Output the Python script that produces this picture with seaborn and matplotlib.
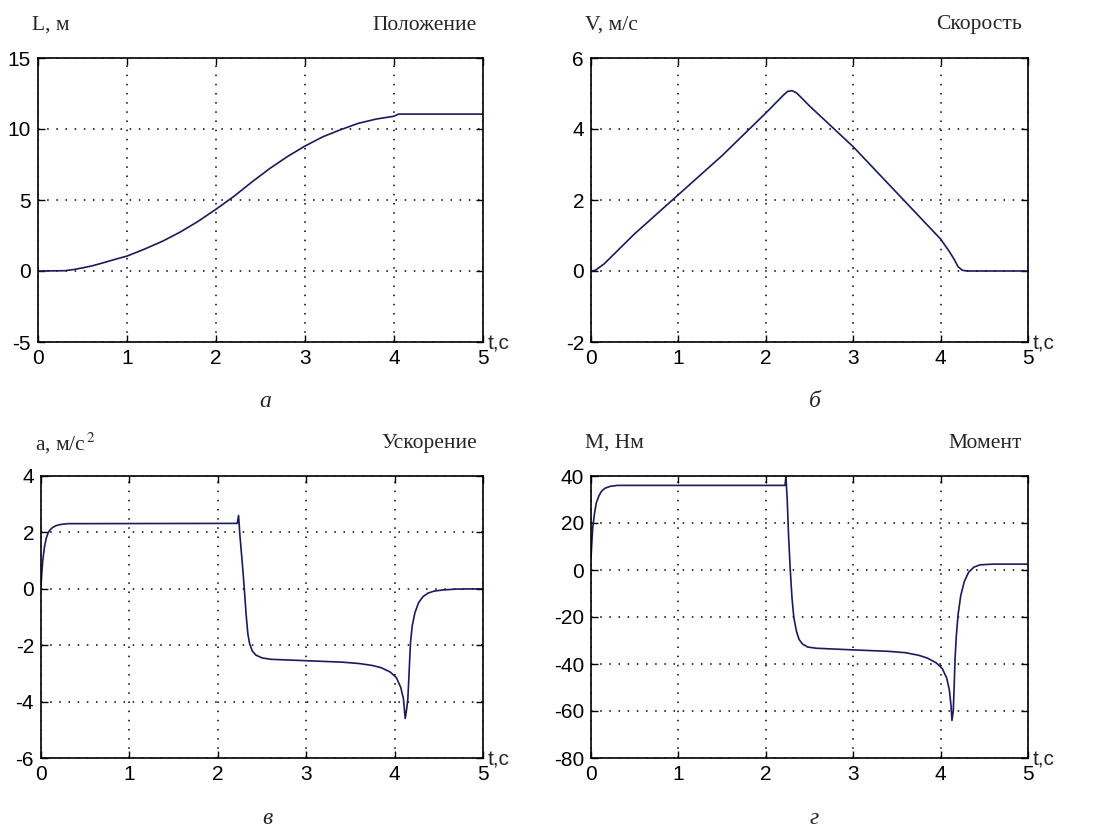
import matplotlib
matplotlib.use("Agg")
import matplotlib.pyplot as plt
import seaborn as sns
import pandas as pd

# ---- data ----
t_pos = [0, 0.3, 0.4, 0.5, 0.6, 0.7, 0.8, 0.9, 1.0, 1.2, 1.4, 1.6, 1.8, 2.0, 2.2, 2.4, 2.6, 2.8,
         3.0, 3.2, 3.4, 3.6, 3.8, 4.0, 4.05, 5.0]
L_pos = [0, 0.02, 0.1, 0.22, 0.35, 0.52, 0.7, 0.88, 1.05, 1.55, 2.1, 2.75, 3.5, 4.35, 5.25, 6.25, 7.2, 8.05,
         8.8, 9.45, 9.95, 10.4, 10.7, 10.9, 11.05, 11.05]

t_vel = [0, 0.05, 0.15, 0.5, 1.0, 1.5, 2.0, 2.2, 2.25, 2.3, 2.35, 2.4, 2.5, 3.0, 3.5, 4.0, 4.1, 4.15, 4.2,
         4.25, 4.3, 5.0]
V_vel = [0, 0.02, 0.2, 1.05, 2.15, 3.25, 4.45, 4.95, 5.06, 5.08, 5.02, 4.9, 4.65, 3.5, 2.2, 0.9, 0.55, 0.35,
         0.12, 0.02, 0, 0]

t_acc = [0, 0.01, 0.02, 0.04, 0.06, 0.08, 0.1, 0.13, 0.17, 0.22, 0.3, 2.22, 2.235, 2.25, 2.28, 2.30, 2.32,
         2.34, 2.36, 2.39, 2.43, 2.5, 2.6, 3.0, 3.4, 3.6, 3.75, 3.85, 3.95, 4.02, 4.07, 4.1, 4.12, 4.135,
         4.15, 4.165, 4.18, 4.2, 4.23, 4.27, 4.32, 4.38, 4.45, 4.55, 4.7, 5.0]
A_acc = [0.1, 0.6, 1.0, 1.5, 1.8, 1.98, 2.08, 2.17, 2.24, 2.28, 2.31, 2.32, 2.6, 1.9, 0.8, 0.0, -0.9,
         -1.6, -1.95, -2.2, -2.35, -2.45, -2.5, -2.55, -2.6, -2.65, -2.72, -2.8, -2.95, -3.15, -3.5, -3.9,
         -4.6, -4.3, -3.9, -2.9, -1.9, -1.3, -0.85, -0.5, -0.28, -0.15, -0.08, -0.04, -0.01, 0.0]

t_mom = [0, 0.01, 0.02, 0.04, 0.06, 0.09, 0.12, 0.16, 0.22, 0.3, 2.22, 2.23, 2.245, 2.26, 2.28, 2.3,
         2.32, 2.35, 2.38, 2.42, 2.48, 2.58, 3.0, 3.4, 3.6, 3.75, 3.85, 3.95, 4.02, 4.07, 4.1, 4.12,
         4.13, 4.145, 4.155, 4.165, 4.18, 4.2, 4.23, 4.27, 4.32, 4.38, 4.45, 4.6, 5.0]
M_mom = [5, 12, 18, 24, 28.5, 31.5, 33.5, 34.8, 35.6, 36, 36, 40, 30, 15, 0, -12,
         -20, -26, -29.5, -31.5, -32.8, -33.3, -34, -34.6, -35.2, -36.3, -37.5, -39.5, -42, -46, -51, -58,
         -64, -60, -50, -38, -28, -19, -11, -5, -1, 1.2, 2.2, 2.5, 2.5]

panels = [
    dict(t=t_pos, y=L_pos, ylim=(-5, 15), yticks=[-5, 0, 5, 10, 15], ylabel="L, м", title="Положение", letter="а"),
    dict(t=t_vel, y=V_vel, ylim=(-2, 6), yticks=[-2, 0, 2, 4, 6], ylabel="V, м/с", title="Скорость", letter="б"),
    dict(t=t_acc, y=A_acc, ylim=(-6, 4), yticks=[-6, -4, -2, 0, 2, 4], ylabel="a, м/с$^{\\,2}$", title="Ускорение", letter="в"),
    dict(t=t_mom, y=M_mom, ylim=(-80, 40), yticks=[-80, -60, -40, -20, 0, 20, 40], ylabel="M, Нм", title="Момент", letter="г"),
]
xticks = [0, 1, 2, 3, 4, 5]

sns.set_theme(style="white")
plt.rcParams["font.family"] = ["Liberation Sans", "DejaVu Sans"]
plt.rcParams["mathtext.fontset"] = "stix"
plt.rcParams["axes.unicode_minus"] = False

W, H = 1101, 832
fig = plt.figure(figsize=(W / 100, H / 100), dpi=100)
fig.patch.set_facecolor("white")

# axes boxes in pixels: left, top, right, bottom
boxes = [(38, 58, 483, 342), (591, 58, 1028, 342), (41, 476, 483, 758), (591, 476, 1028, 758)]

def fx(px):
    return px / W

def fy(py):
    return 1 - py / H

serif = ["Liberation Serif", "DejaVu Serif"]

for p, (l, tp, r, b) in zip(panels, boxes):
    ax = fig.add_axes([fx(l), fy(b), (r - l) / W, (b - tp) / H])
    df = pd.DataFrame({"t": p["t"], "v": p["y"]})
    sns.lineplot(data=df, x="t", y="v", ax=ax, color="#1a1a5e", linewidth=1.2, estimator=None, sort=False)
    ax.set_xlim(0, 5)
    ax.set_ylim(*p["ylim"])
    ax.set_xticks(xticks)
    ax.set_yticks(p["yticks"])
    ax.set_xlabel("")
    ax.set_ylabel("")
    ax.grid(True, color="black", linestyle=(0, (1, 5)), linewidth=1.1)
    ax.tick_params(direction="in", length=5, width=1, colors="black", labelsize=15,
                   top=True, right=True, left=True, bottom=True, pad=5)
    for s in ax.spines.values():
        s.set_color("black")
        s.set_linewidth(1.2)
        s.set_visible(True)
    ax.set_facecolor("white")
    # labels
    fig.text(fx(l - 6), fy(tp - 33), p["ylabel"], fontsize=15.5, family=serif, ha="left", va="center")
    fig.text(fx(r - 6), fy(tp - 33), p["title"], fontsize=15.5, family=serif, ha="right", va="center")
    fig.text(fx(r + 5), fy(b + 2), "t,c", fontsize=15, ha="left", va="center")
    fig.text(fx((l + r) / 2 + 5), fy(b + 60), p["letter"], fontsize=17, family=serif, style="italic",
             ha="center", va="center")

fig.savefig("out.png", dpi=100, facecolor="white")
